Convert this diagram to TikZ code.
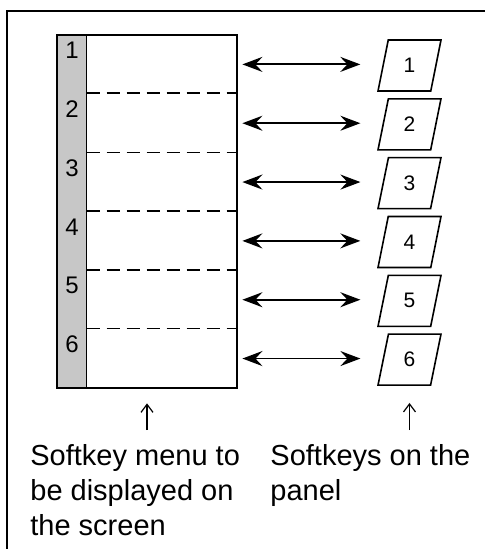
\documentclass[tikz,border=0pt]{standalone}
\usepackage{fontspec}
\setmainfont{Liberation Sans}
\usetikzlibrary{arrows.meta,shapes.geometric,positioning}

\begin{document}
\begin{tikzpicture}[x=0.5pt, y=-0.5pt,
  menubox/.style={line width=1pt},
  stripe/.style={fill=black!22},
  rownum/.style={font=\fontsize{12}{14}\selectfont, inner sep=0pt},
  rowcell/.style={minimum width=75pt, minimum height=29.4pt, inner sep=0pt},
  rowline/.style={line width=#1, dash pattern=on 6.5pt off 3.5pt},
  softkey/.style={draw, line width=0.8pt, trapezium, trapezium left angle=79,
    trapezium right angle=101, trapezium stretches=true, minimum width=31.5pt,
    minimum height=25.5pt, inner sep=0pt, font=\fontsize{10.5}{12}\selectfont},
  keyarrow/.style={{Stealth[length=10pt,width=7.5pt,inset=3.5pt]}-{Stealth[length=10pt,width=7.5pt,inset=3.5pt]},
    line width=0.9pt, shorten <=2.5pt, shorten >=11pt},
  pointer/.style={-{Straight Barb[length=4pt,width=6pt]}, line width=0.6pt},
  caption/.style={align=left, font=\fontsize{14.5}{17.5}\selectfont, inner sep=0pt, anchor=north west}]
  \useasboundingbox (0,0) rectangle (484,549);

  % Outer frame (only top and left edges show)
  \draw[line width=1pt] (7,560) -- (7,11) -- (495,11);

  % Softkey menu on the screen
  \node[minimum width=90pt, minimum height=176.5pt, inner sep=0pt] (menu) at (147,211.5) {};
  \fill[stripe] (menu.north west) rectangle ([xshift=15pt]menu.south west);
  \draw[line width=0.8pt] ([xshift=15pt]menu.north west) -- ([xshift=15pt]menu.south west);
  \draw[menubox] (menu.north west) rectangle (menu.south east);

  % Rows, numbers, keys and arrows
  \foreach \i in {1,...,6} {
    \pgfmathsetmacro\rowtop{35+(\i-1)*58.83}
    \node[rownum] (num\i) at (72,\rowtop+15.5) {\i};
    \node[rowcell] (row\i) at (162,\rowtop+29.4) {};
    \node[softkey] (key\i) at (409.5,\rowtop+30.5) {\i};
    \draw[keyarrow] (row\i.east) -- (row\i.east -| key\i.west);
  }

  % Dashed row separators
  \foreach \i/\w in {2/1pt,3/0.7pt,4/1pt,5/0.7pt,6/0.7pt}
    \draw[rowline=\w] (row\i.north west) -- (row\i.north east);

  % Captions
  \node[caption] (capL) at (30,444) {Softkey menu to\\be displayed on\\the screen};
  \node[caption] (capR) at (270,444) {Softkeys on the\\panel};

  \draw[pointer, shorten <=7pt, shorten >=7.5pt] (capL.north -| menu.south) -- (menu.south);
  \draw[pointer, shorten <=7pt, shorten >=8.5pt] (capR.north -| key6.south) -- (key6.south);
\end{tikzpicture}
\end{document}
